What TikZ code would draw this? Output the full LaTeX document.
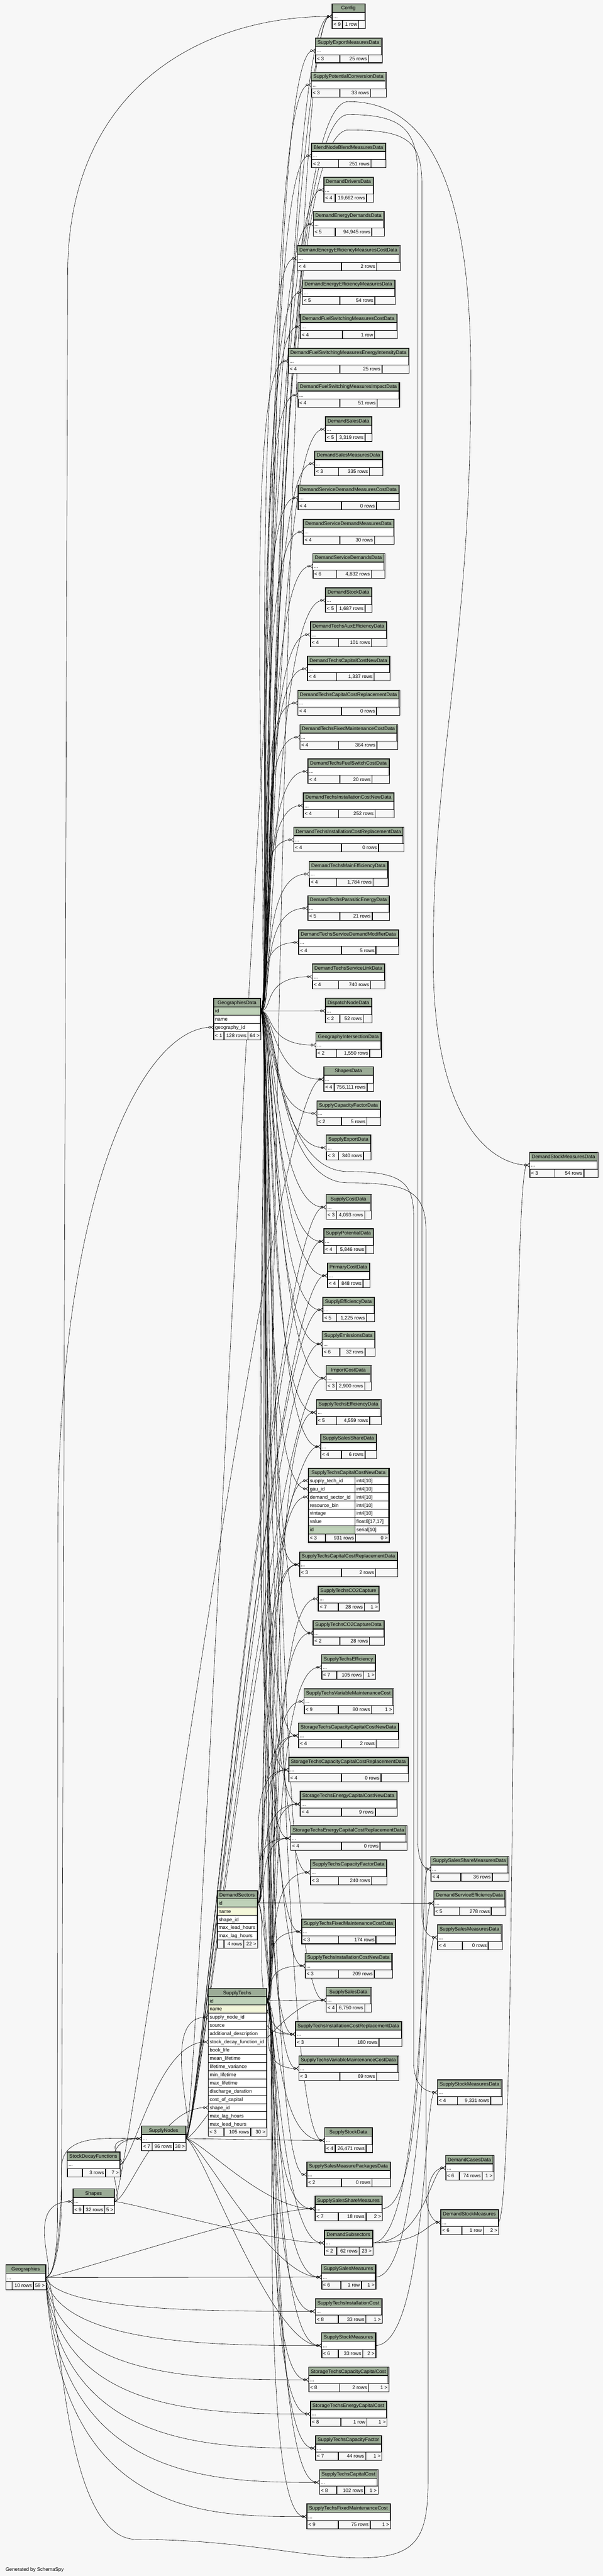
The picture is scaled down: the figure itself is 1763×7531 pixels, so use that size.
\documentclass[tikz,border=0pt]{standalone}
\usepackage{fontspec}
\setmainfont{Liberation Sans}
\usetikzlibrary{arrows.meta}
\usetikzlibrary{positioning}

\definecolor{canvas}{HTML}{F7F7F7}
\definecolor{headfill}{HTML}{9BAB96}
\definecolor{keyfill}{HTML}{BED1B8}
\definecolor{namefill}{HTML}{F4F7DA}

\newcommand{\tblfont}{\fontsize{14.5pt}{17pt}\selectfont}
\newlength{\tblw}
\newlength{\tbll}
\newlength{\tblm}
\newlength{\tblr}

\pgfdeclarelayer{background}
\pgfsetlayers{background,main}

\tikzset{
    every node/.style={font=\tblfont, inner sep=0pt},
    cell/.style={draw=black, line width=0.8pt},
    tblhead/.style={cell, fill=headfill, minimum height=24pt, text height=10.4pt, text depth=0pt},
    tblrow/.style={cell, fill=white, minimum height=24pt},
    tblfoot/.style={cell, fill=canvas, minimum height=24pt},
    colrow/.style={cell, minimum height=24pt, inner xsep=4pt, align=left, text height=10.4pt, text depth=0pt},
    txt/.style={text height=10.4pt, text depth=0pt},
    frame/.style={draw=black, line width=1.6pt},
    link/.style={draw=black, line width=0.9pt,
        -{Circle[open,length=7pt,width=7pt] Straight Barb[reversed,length=7pt,width=11pt]}},
    fk/.style={ % foreign key, crow's foot at the child
        link, to path={.. controls +(40,0) and +(-150,0) .. (\tikztotarget)}
    },
    fkr/.style={link, to path={.. controls +(150,0) and +(-40,0) .. (\tikztotarget)}},
    fkm/.style={link, to path={.. controls +(60,0) and +(-60,0) .. (\tikztotarget)}},
    fkdown/.style={link, to path={.. controls ([xshift=40pt]\tikztostart |- \tikztotarget) and +(-300,0) .. (\tikztotarget)}}
}

% footer: name, x, y, widths (3), texts (3)
\newcommand{\tblfooter}[9]{%
    \node[tblfoot, minimum width=#4pt, anchor=north west] (#1-p) at (#2,#3) {};
    \node[tblfoot, minimum width=#5pt, anchor=north west] (#1-n) at (#1-p.north east) {};
    \node[tblfoot, minimum width=#6pt, anchor=north west] (#1-c) at (#1-n.north east) {};
    \node[txt, anchor=west] (#1-pt) at ([xshift=4pt]#1-p.west) {#7};
    \node[txt, anchor=east] (#1-nt) at ([xshift=-4pt]#1-n.east) {#8};
    \node[txt, anchor=east] (#1-ct) at ([xshift=-4pt]#1-c.east) {#9};
}

% collapsed table: name, centre x, top y, parents, rows, children
\newcommand{\datatable}[6]{%
    \pgfinterruptpicture%
        \settowidth{\tblw}{\tblfont #1}\global\tblw=\tblw%
        \settowidth{\tbll}{\tblfont #4}\global\tbll=\tbll%
        \settowidth{\tblm}{\tblfont #5}\global\tblm=\tblm%
        \settowidth{\tblr}{\tblfont #6}\global\tblr=\tblr%
    \endpgfinterruptpicture%
    \pgfmathsetmacro{\tblL}{max(17,\tbll+8.4)}%
    \pgfmathsetmacro{\tblM}{\tblm+11}%
    \pgfmathsetmacro{\tblR}{max(19,\tblr+8.4)}%
    \pgfmathsetmacro{\tblW}{max(\tblw+12,\tblL+\tblM+\tblR)}%
    \pgfmathsetmacro{\tblE}{\tblW-\tblL-\tblM-\tblR}%
    \pgfmathsetmacro{\tblL}{\tblL+\tblE/2}%
    \pgfmathsetmacro{\tblM}{\tblM+\tblE/4}%
    \pgfmathsetmacro{\tblR}{\tblR+\tblE/4}%
    \pgfmathsetmacro{\tblX}{#2-\tblW/2}%
    \pgfmathsetmacro{\tblY}{#3+48}%
    \node[tblhead, minimum width=\tblW pt, anchor=north] (#1) at (#2,#3) {#1};
    \node[tblrow, minimum width=\tblW pt, anchor=north] (#1-r) at (#1.south) {};
    \node[txt, anchor=west] (#1-e) at ([xshift=4pt]#1-r.west) {...};
    \tblfooter{#1}{\tblX}{\tblY}{\tblL}{\tblM}{\tblR}{#4}{#5}{#6}
    \draw[frame] (#1.north west) rectangle (#1-c.south east);
}

\begin{document}
\begin{tikzpicture}[x=1pt,y=-1pt]
\begin{pgfonlayer}{background}
\fill[canvas] (0,0) rectangle (1763,7531);
\end{pgfonlayer}
\useasboundingbox (0,0) rectangle (1763,7531);

\datatable{Config}{1019}{11}{< 9}{1 row}{}
\datatable{SupplyExportMeasuresData}{1019}{111}{< 3}{25 rows}{}
\datatable{SupplyPotentialConversionData}{1019}{211}{< 3}{33 rows}{}
\datatable{BlendNodeBlendMeasuresData}{1019}{418}{< 2}{251 rows}{}
\datatable{DemandDriversData}{1019}{518}{< 4}{19,662 rows}{}
\datatable{DemandEnergyDemandsData}{1019}{618}{< 5}{94,945 rows}{}
\datatable{DemandEnergyEfficiencyMeasuresCostData}{1019}{718}{< 4}{2 rows}{}
\datatable{DemandEnergyEfficiencyMeasuresData}{1019}{818}{< 5}{54 rows}{}
\datatable{DemandFuelSwitchingMeasuresCostData}{1019}{918}{< 4}{1 row}{}
\datatable{DemandFuelSwitchingMeasuresEnergyIntensityData}{1019}{1018}{< 4}{25 rows}{}
\datatable{DemandFuelSwitchingMeasuresImpactData}{1019}{1118}{< 4}{51 rows}{}
\datatable{DemandSalesData}{1019}{1218}{< 5}{3,319 rows}{}
\datatable{DemandSalesMeasuresData}{1019}{1318}{< 3}{335 rows}{}
\datatable{DemandServiceDemandMeasuresCostData}{1019}{1418}{< 4}{0 rows}{}
\datatable{DemandServiceDemandMeasuresData}{1019}{1518}{< 4}{30 rows}{}
\datatable{DemandServiceDemandsData}{1019}{1618}{< 6}{4,832 rows}{}
\datatable{DemandStockData}{1019}{1718}{< 5}{1,687 rows}{}
\datatable{DemandTechsAuxEfficiencyData}{1019}{1818}{< 4}{101 rows}{}
\datatable{DemandTechsCapitalCostNewData}{1019}{1918}{< 4}{1,337 rows}{}
\datatable{DemandTechsCapitalCostReplacementData}{1019}{2018}{< 4}{0 rows}{}
\datatable{DemandTechsFixedMaintenanceCostData}{1019}{2118}{< 4}{364 rows}{}
\datatable{DemandTechsFuelSwitchCostData}{1019}{2218}{< 4}{20 rows}{}
\datatable{DemandTechsInstallationCostNewData}{1019}{2318}{< 4}{252 rows}{}
\datatable{DemandTechsInstallationCostReplacementData}{1019}{2418}{< 4}{0 rows}{}
\datatable{DemandTechsMainEfficiencyData}{1019}{2518}{< 4}{1,784 rows}{}
\datatable{DemandTechsParasiticEnergyData}{1019}{2618}{< 5}{21 rows}{}
\datatable{DemandTechsServiceDemandModifierData}{1019}{2718}{< 4}{5 rows}{}
\datatable{DemandTechsServiceLinkData}{1019}{2818}{< 4}{740 rows}{}
\datatable{DispatchNodeData}{1019}{2918}{< 2}{52 rows}{}
\datatable{GeographyIntersectionData}{1019}{3018}{< 2}{1,550 rows}{}
\datatable{ShapesData}{1019}{3118}{< 4}{756,111 rows}{}
\datatable{SupplyCapacityFactorData}{1019}{3218}{< 2}{5 rows}{}
\datatable{SupplyExportData}{1019}{3318}{< 3}{340 rows}{}
\datatable{SupplyCostData}{1019}{3492}{< 3}{4,093 rows}{}
\datatable{SupplyPotentialData}{1019}{3592}{< 4}{5,846 rows}{}
\datatable{PrimaryCostData}{1019}{3692}{< 4}{848 rows}{}
\datatable{SupplyEfficiencyData}{1019}{3792}{< 5}{1,225 rows}{}
\datatable{SupplyEmissionsData}{1019}{3892}{< 6}{32 rows}{}
\datatable{ImportCostData}{1019}{3992}{< 3}{2,900 rows}{}
\datatable{SupplyTechsEfficiencyData}{1019}{4092}{< 5}{4,559 rows}{}
\datatable{SupplySalesShareData}{1019}{4192}{< 4}{6 rows}{}
\datatable{SupplyTechsCapitalCostReplacementData}{1019}{4537}{< 3}{2 rows}{}
\datatable{SupplyTechsCO2Capture}{1019}{4637}{< 7}{28 rows}{1 >}
\datatable{SupplyTechsCO2CaptureData}{1019}{4737}{< 2}{28 rows}{}
\datatable{SupplyTechsEfficiency}{1019}{4837}{< 7}{105 rows}{1 >}
\datatable{SupplyTechsVariableMaintenanceCost}{1019}{4937}{< 9}{80 rows}{1 >}
\datatable{StorageTechsCapacityCapitalCostNewData}{1019}{5037}{< 4}{2 rows}{}
\datatable{StorageTechsCapacityCapitalCostReplacementData}{1019}{5137}{< 4}{0 rows}{}
\datatable{StorageTechsEnergyCapitalCostNewData}{1019}{5237}{< 4}{9 rows}{}
\datatable{StorageTechsEnergyCapitalCostReplacementData}{1019}{5337}{< 4}{0 rows}{}
\datatable{SupplyTechsCapacityFactorData}{1019}{5437}{< 3}{240 rows}{}
\datatable{SupplyTechsFixedMaintenanceCostData}{1019}{5610}{< 3}{174 rows}{}
\datatable{SupplyTechsInstallationCostNewData}{1019}{5710}{< 3}{209 rows}{}
\datatable{SupplySalesData}{1019}{5810}{< 4}{6,750 rows}{}
\datatable{SupplyTechsInstallationCostReplacementData}{1019}{5910}{< 3}{180 rows}{}
\datatable{SupplyTechsVariableMaintenanceCostData}{1019}{6010}{< 3}{69 rows}{}
\datatable{SupplyStockData}{1019}{6220}{< 4}{26,471 rows}{}
\datatable{SupplySalesMeasurePackagesData}{1019}{6320}{< 2}{0 rows}{}
\datatable{SupplySalesShareMeasures}{1019}{6420}{< 7}{18 rows}{2 >}
\datatable{DemandSubsectors}{1019}{6520}{< 2}{62 rows}{23 >}
\datatable{SupplySalesMeasures}{1019}{6620}{< 6}{1 row}{1 >}
\datatable{SupplyTechsInstallationCost}{1019}{6720}{< 8}{33 rows}{1 >}
\datatable{SupplyStockMeasures}{1019}{6820}{< 6}{33 rows}{2 >}
\datatable{StorageTechsCapacityCapitalCost}{1019}{6920}{< 8}{2 rows}{1 >}
\datatable{StorageTechsEnergyCapitalCost}{1019}{7020}{< 8}{1 row}{1 >}
\datatable{SupplyTechsCapacityFactor}{1019}{7120}{< 7}{44 rows}{1 >}
\datatable{SupplyTechsCapitalCost}{1019}{7220}{< 8}{102 rows}{1 >}
\datatable{SupplyTechsFixedMaintenanceCost}{1019}{7320}{< 9}{75 rows}{1 >}

\datatable{SupplySalesShareMeasuresData}{1373}{5427}{< 4}{36 rows}{}
\datatable{DemandServiceEfficiencyData}{1373}{5527}{< 5}{278 rows}{}
\datatable{SupplySalesMeasuresData}{1373}{5627}{< 4}{0 rows}{}
\datatable{SupplyStockMeasuresData}{1373}{6080}{< 4}{9,331 rows}{}
\datatable{DemandCasesData}{1373}{6301}{< 6}{74 rows}{1 >}
\datatable{DemandStockMeasures}{1373}{6460}{< 6}{1 row}{2 >}
\datatable{DemandStockMeasuresData}{1648}{3369}{< 3}{54 rows}{}

\datatable{SupplyNodes}{478.5}{6215}{< 7}{96 rows}{38 >}
\datatable{StockDecayFunctions}{273}{6291}{}{3 rows}{7 >}
\datatable{Shapes}{273.5}{6399}{< 9}{32 rows}{5 >}
\datatable{Geographies}{75}{6621}{}{10 rows}{59 >}

%%%%%%%%%%%%%%%%%%%%%%%%%%%%%%%%%%
\node[tblhead, minimum width=136pt, anchor=north west] (GeographiesData) at (625,2919) {GeographiesData};
\foreach \cname/\ctext/\cfill [count=\i] in {id/id/keyfill, name/name/white, gid/geography\_id/white}
    \node[colrow, fill=\cfill, text width=128pt, anchor=north west] (GeographiesData-\cname) at (625,{2919+24*\i}) {\ctext};
\tblfooter{GeographiesData}{625}{3015}{29}{69.5}{37.5}{< 1}{128 rows}{64 >}
\draw[frame] (GeographiesData.north west) rectangle (GeographiesData-c.south east);

\node[tblhead, minimum width=116pt, anchor=north west] (DemandSectors) at (635,5527) {DemandSectors};
\foreach \cname/\ctext/\cfill [count=\i] in {id/id/keyfill, name/name/namefill, shid/shape\_id/white,
        lead/max\_lead\_hours/white, lag/max\_lag\_hours/white}
    \node[colrow, fill=\cfill, text width=108pt, anchor=north west] (DemandSectors-\cname) at (635,{5527+24*\i}) {\ctext};
\tblfooter{DemandSectors}{635}{5671}{19}{57}{40}{}{4 rows}{22 >}
\draw[frame] (DemandSectors.north west) rectangle (DemandSectors-c.south east);

\node[tblhead, minimum width=169pt, anchor=north west] (SupplyTechs) at (609,5813) {SupplyTechs};
\foreach \cname/\ctext/\cfill [count=\i] in {id/id/keyfill, name/name/namefill, snid/supply\_node\_id/white,
        src/source/white, desc/additional\_description/white, sdfid/stock\_decay\_function\_id/white,
        blife/book\_life/white, mlife/mean\_lifetime/white, lvar/lifetime\_variance/white,
        minl/min\_lifetime/white, maxl/max\_lifetime/white, dur/discharge\_duration/white,
        coc/cost\_of\_capital/white, shid/shape\_id/white, lag/max\_lag\_hours/white, lead/max\_lead\_hours/white}
    \node[colrow, fill=\cfill, text width=161pt, anchor=north west] (SupplyTechs-\cname) at (609,{5813+24*\i}) {\ctext};
\tblfooter{SupplyTechs}{609}{6221}{45}{77.5}{46.5}{< 3}{105 rows}{30 >}
\draw[frame] (SupplyTechs.north west) rectangle (SupplyTechs-c.south east);

\node[tblhead, minimum width=234pt, anchor=north west] (SupplyTechsCapitalCostNewData) at (902,4292) {SupplyTechsCapitalCostNewData};
\foreach \cname/\ctext/\ctype/\cfill [count=\i] in {stid/supply\_tech\_id/int4[10]/white, gauid/gau\_id/int4[10]/white,
        dsid/demand\_sector\_id/int4[10]/white, rbin/resource\_bin/int4[10]/white, vint/vintage/int4[10]/white,
        val/value/{float8[17,17]}/white, id/id/serial[10]/keyfill}
{
    \node[colrow, fill=\cfill, text width=128pt, anchor=north west] (SupplyTechsCapitalCostNewData-\cname) at (902,{4292+24*\i}) {\ctext};
    \node[colrow, fill=white, text width=90pt, anchor=north west] (SupplyTechsCapitalCostNewData-\cname-type) at (1038,{4292+24*\i}) {\ctype};
}
\tblfooter{SupplyTechsCapitalCostNewData}{902}{4484}{49}{87}{98}{< 3}{931 rows}{0 >}
\draw[draw=black, line width=3.2pt] (SupplyTechsCapitalCostNewData.north west) rectangle (SupplyTechsCapitalCostNewData-c.south east);

\node[anchor=base west] (credit) at (16,7516) {Generated by SchemaSpy};

%%%%%%%%%%%%%%%%%%%%%%%%%%%%%%%%%%
\coordinate (loopA) at (1019,297);
\coordinate (loopA2) at (1377,1100);
\coordinate (loopA3) at (1267,2800);
\coordinate (loopB) at (1019,335);
\coordinate (loopB2) at (1222,520);
\coordinate (loopB3) at (1222,5380);
\coordinate (loopC) at (1019,380);
\coordinate (loopC2) at (1234,540);
\coordinate (loopC3) at (1234,5590);
\coordinate (loopD) at (1019,3425);
\coordinate (loopD2) at (1210,3560);
\coordinate (loopD3) at (1210,6030);
\coordinate (loopE) at (1019,3458);
\coordinate (loopE2) at (1246,3600);
\coordinate (loopE3) at (1246,6410);
\coordinate (loopF0) at (400,7424);
\coordinate (loopF) at (1050,7478);
\coordinate (loopF2) at (1252,7250);
\coordinate (loopF3) at (1252,6420);
\coordinate (loopG) at (180,6420);
\coordinate (loopG2) at (198,800);
\coordinate (loopH) at (168,6480);
\coordinate (loopH2) at (169,4500);
\coordinate (loopJ) at (180,6340);

\begin{pgfonlayer}{background}
\draw
    (GeographiesData-id.east) edge[fk] (Config-r.west)
    (GeographiesData-id.east) edge[fk] (SupplyExportMeasuresData-r.west)
    (GeographiesData-id.east) edge[fk] (SupplyPotentialConversionData-r.west)
    (GeographiesData-id.east) edge[fk] (BlendNodeBlendMeasuresData-r.west)
    (GeographiesData-id.east) edge[fk] (DemandDriversData-r.west)
    (GeographiesData-id.east) edge[fk] (DemandEnergyDemandsData-r.west)
    (GeographiesData-id.east) edge[fk] (DemandEnergyEfficiencyMeasuresCostData-r.west)
    (GeographiesData-id.east) edge[fk] (DemandEnergyEfficiencyMeasuresData-r.west)
    (GeographiesData-id.east) edge[fk] (DemandFuelSwitchingMeasuresCostData-r.west)
    (GeographiesData-id.east) edge[fk] (DemandFuelSwitchingMeasuresEnergyIntensityData-r.west)
    (GeographiesData-id.east) edge[fk] (DemandFuelSwitchingMeasuresImpactData-r.west)
    (GeographiesData-id.east) edge[fk] (DemandSalesData-r.west)
    (GeographiesData-id.east) edge[fk] (DemandSalesMeasuresData-r.west)
    (GeographiesData-id.east) edge[fk] (DemandServiceDemandMeasuresCostData-r.west)
    (GeographiesData-id.east) edge[fk] (DemandServiceDemandMeasuresData-r.west)
    (GeographiesData-id.east) edge[fk] (DemandServiceDemandsData-r.west)
    (GeographiesData-id.east) edge[fk] (DemandStockData-r.west)
    (GeographiesData-id.east) edge[fk] (DemandTechsAuxEfficiencyData-r.west)
    (GeographiesData-id.east) edge[fk] (DemandTechsCapitalCostNewData-r.west)
    (GeographiesData-id.east) edge[fk] (DemandTechsCapitalCostReplacementData-r.west)
    (GeographiesData-id.east) edge[fk] (DemandTechsFixedMaintenanceCostData-r.west)
    (GeographiesData-id.east) edge[fk] (DemandTechsFuelSwitchCostData-r.west)
    (GeographiesData-id.east) edge[fk] (DemandTechsInstallationCostNewData-r.west)
    (GeographiesData-id.east) edge[fk] (DemandTechsInstallationCostReplacementData-r.west)
    (GeographiesData-id.east) edge[fk] (DemandTechsMainEfficiencyData-r.west)
    (GeographiesData-id.east) edge[fk] (DemandTechsParasiticEnergyData-r.west)
    (GeographiesData-id.east) edge[fk] (DemandTechsServiceDemandModifierData-r.west)
    (GeographiesData-id.east) edge[fk] (DemandTechsServiceLinkData-r.west)
    (GeographiesData-id.east) edge[fk] (DispatchNodeData-r.west)
    (GeographiesData-id.east) edge[fk] (GeographyIntersectionData-r.west)
    (GeographiesData-id.east) edge[fk] (ShapesData-r.west)
    (GeographiesData-id.east) edge[fk] (SupplyCapacityFactorData-r.west)
    (GeographiesData-id.east) edge[fk] (SupplyExportData-r.west)
    (GeographiesData-id.east) edge[fk] (SupplyCostData-r.west)
    (GeographiesData-id.east) edge[fk] (SupplyPotentialData-r.west)
    (GeographiesData-id.east) edge[fk] (PrimaryCostData-r.west)
    (GeographiesData-id.east) edge[fk] (SupplyEfficiencyData-r.west)
    (GeographiesData-id.east) edge[fk] (SupplyEmissionsData-r.west)
    (GeographiesData-id.east) edge[fk] (ImportCostData-r.west)
    (GeographiesData-id.east) edge[fk] (SupplyTechsEfficiencyData-r.west)
    (GeographiesData-id.east) edge[fk] (SupplySalesShareData-r.west)
    (GeographiesData-id.east) edge[fk] (SupplyTechsCapitalCostNewData-gauid.west)
    (GeographiesData-id.east) edge[fk] (SupplyTechsCapitalCostReplacementData-r.west)
    (GeographiesData-id.east) edge[fk] (SupplyTechsCO2CaptureData-r.west)
    (GeographiesData-id.east) edge[fk] (StorageTechsCapacityCapitalCostNewData-r.west)
    (GeographiesData-id.east) edge[fk] (StorageTechsCapacityCapitalCostReplacementData-r.west)
    (GeographiesData-id.east) edge[fk] (StorageTechsEnergyCapitalCostNewData-r.west)
    (GeographiesData-id.east) edge[fk] (StorageTechsEnergyCapitalCostReplacementData-r.west)
    (GeographiesData-id.east) edge[fk] (SupplyTechsCapacityFactorData-r.west)
    (GeographiesData-id.east) edge[fk] (SupplyTechsFixedMaintenanceCostData-r.west)
    (GeographiesData-id.east) edge[fk] (SupplyTechsInstallationCostNewData-r.west)
    (GeographiesData-id.east) edge[fk] (SupplySalesData-r.west)
    (GeographiesData-id.east) edge[fk] (SupplyTechsInstallationCostReplacementData-r.west)
    (GeographiesData-id.east) edge[fk] (SupplyTechsVariableMaintenanceCostData-r.west)
    (GeographiesData-id.east) edge[fk] (SupplyStockData-r.west)
    (GeographiesData-id.east) edge[fk] (SupplySalesMeasurePackagesData-r.west)
%%%%%%%%%%%%%%%%%%%%%%%%%%%%%%%%%%
    (SupplyTechs-id.east) edge[fk] (SupplyTechsCapitalCostNewData-stid.west)
    (SupplyTechs-id.east) edge[fk] (SupplyTechsCapitalCostReplacementData-r.west)
    (SupplyTechs-id.east) edge[fk] (SupplyTechsCO2Capture-r.west)
    (SupplyTechs-id.east) edge[fk] (SupplyTechsCO2CaptureData-r.west)
    (SupplyTechs-id.east) edge[fk] (SupplyTechsEfficiency-r.west)
    (SupplyTechs-id.east) edge[fk] (SupplyTechsEfficiencyData-r.west)
    (SupplyTechs-id.east) edge[fk] (SupplyTechsVariableMaintenanceCost-r.west)
    (SupplyTechs-id.east) edge[fk] (StorageTechsCapacityCapitalCostNewData-r.west)
    (SupplyTechs-id.east) edge[fk] (StorageTechsCapacityCapitalCostReplacementData-r.west)
    (SupplyTechs-id.east) edge[fk] (StorageTechsEnergyCapitalCostNewData-r.west)
    (SupplyTechs-id.east) edge[fk] (StorageTechsEnergyCapitalCostReplacementData-r.west)
    (SupplyTechs-id.east) edge[fk] (SupplyTechsCapacityFactorData-r.west)
    (SupplyTechs-id.east) edge[fk] (SupplyTechsFixedMaintenanceCostData-r.west)
    (SupplyTechs-id.east) edge[fk] (SupplyTechsInstallationCostNewData-r.west)
    (SupplyTechs-id.east) edge[fk] (SupplySalesData-r.west)
    (SupplyTechs-id.east) edge[fk] (SupplyTechsInstallationCostReplacementData-r.west)
    (SupplyTechs-id.east) edge[fk] (SupplyTechsVariableMaintenanceCostData-r.west)
    (SupplyTechs-id.east) edge[fk] (SupplyStockData-r.west)
    (SupplyTechs-id.east) edge[fk] (SupplySalesShareMeasures-r.west)
    (SupplyTechs-id.east) edge[fk] (SupplySalesMeasures-r.west)
    (SupplyTechs-id.east) edge[fk] (SupplyTechsInstallationCost-r.west)
    (SupplyTechs-id.east) edge[fk] (SupplyStockMeasures-r.west)
    (SupplyTechs-id.east) edge[fk] (StorageTechsCapacityCapitalCost-r.west)
    (SupplyTechs-id.east) edge[fk] (StorageTechsEnergyCapitalCost-r.west)
    (SupplyTechs-id.east) edge[fk] (SupplyTechsCapacityFactor-r.west)
    (SupplyTechs-id.east) edge[fk] (SupplyTechsCapitalCost-r.west)
    (SupplyTechs-id.east) edge[fk] (SupplyTechsFixedMaintenanceCost-r.west)
%%%%%%%%%%%%%%%%%%%%%%%%%%%%%%%%%%
    (DemandSectors-id.east) edge[fk] (Config-r.west)
    (DemandSectors-id.east) edge[fk] (SupplyTechsCapitalCostNewData-dsid.west)
    (DemandSectors-id.east) edge[fk] (SupplyTechsCapitalCostReplacementData-r.west)
    (DemandSectors-id.east) edge[fk] (StorageTechsCapacityCapitalCostNewData-r.west)
    (DemandSectors-id.east) edge[fk] (StorageTechsCapacityCapitalCostReplacementData-r.west)
    (DemandSectors-id.east) edge[fk] (StorageTechsEnergyCapitalCostNewData-r.west)
    (DemandSectors-id.east) edge[fk] (StorageTechsEnergyCapitalCostReplacementData-r.west)
    (DemandSectors-id.east) edge[fk] (SupplyTechsInstallationCostReplacementData-r.west)
    (DemandSectors-id.east) edge[fk] (DemandSubsectors-r.west)
    (DemandSectors-id.east) edge[fk] (DemandServiceEfficiencyData-r.west)
%%%%%%%%%%%%%%%%%%%%%%%%%%%%%%%%%%
    (SupplyNodes-r.east) edge[fk] (SupplyTechs-snid.west)
    (SupplyNodes-r.east) edge[fk] (Config-r.west)
    (SupplyNodes-r.east) edge[fk] (SupplyCostData-r.west)
    (SupplyNodes-r.east) edge[fk] (SupplyPotentialData-r.west)
    (SupplyNodes-r.east) edge[fk] (PrimaryCostData-r.west)
    (SupplyNodes-r.east) edge[fk] (SupplyEfficiencyData-r.west)
    (SupplyNodes-r.east) edge[fk] (SupplyEmissionsData-r.west)
    (SupplyNodes-r.east) edge[fk] (ImportCostData-r.west)
    (SupplyNodes-r.east) edge[fk] (SupplySalesShareData-r.west)
    (SupplyNodes-r.east) edge[fk] (SupplySalesData-r.west)
    (SupplyNodes-r.east) edge[fk] (SupplyStockData-r.west)
    (SupplyNodes-r.east) edge[fk] (SupplySalesShareMeasures-r.west)
    (SupplyNodes-r.east) edge[fk] (SupplySalesMeasures-r.west)
    (SupplyNodes-r.east) edge[fk] (SupplyStockMeasures-r.west)
    (StockDecayFunctions-r.east) edge[fk] (SupplyTechs-sdfid.west)
    (StockDecayFunctions-r.east) edge[fk] (SupplyNodes-r.west)
    (Shapes-r.east) edge[fk] (SupplyNodes-r.west)
    (Shapes-r.east) edge[fk] (SupplyTechs-shid.west)
    (Shapes-r.east) edge[fk] (DemandSubsectors-r.west)
    (Shapes-r.east) edge[fk] (ShapesData-r.west)
%%%%%%%%%%%%%%%%%%%%%%%%%%%%%%%%%%
    (Geographies-r.east) edge[fk] (Shapes-r.west)
    (Geographies-r.east) edge[fk] (SupplySalesShareMeasures-r.west)
    (Geographies-r.east) edge[fk] (SupplySalesMeasures-r.west)
    (Geographies-r.east) edge[fkdown] (SupplyTechsInstallationCost-r.west)
    (Geographies-r.east) edge[fkdown] (SupplyStockMeasures-r.west)
    (Geographies-r.east) edge[fkdown] (StorageTechsCapacityCapitalCost-r.west)
    (Geographies-r.east) edge[fkdown] (StorageTechsEnergyCapitalCost-r.west)
    (Geographies-r.east) edge[fkdown] (SupplyTechsCapacityFactor-r.west)
    (Geographies-r.east) edge[fkdown] (SupplyTechsCapitalCost-r.west)
    (Geographies-r.east) edge[fkdown] (SupplyTechsFixedMaintenanceCost-r.west)
%%%%%%%%%%%%%%%%%%%%%%%%%%%%%%%%%%
    (SupplySalesShareMeasures-r.east) edge[fkr] (SupplySalesShareMeasuresData-r.west)
    (SupplySalesMeasures-r.east) edge[fkr] (SupplySalesMeasuresData-r.west)
    (SupplyStockMeasures-r.east) edge[fkr] (SupplyStockMeasuresData-r.west)
    (DemandSubsectors-r.east) edge[fkr] (DemandServiceEfficiencyData-r.west)
    (DemandSubsectors-r.east) edge[fkr] (DemandCasesData-r.west)
    (DemandSubsectors-r.east) edge[fkr] (DemandStockMeasures-r.west)
    (DemandStockMeasures-r.east) edge[fkm] (DemandStockMeasuresData-r.west)
    ;

\draw[link] (GeographiesData-id.east) .. controls (815,2954) and (790,297) .. (loopA)
    .. controls (1300,297) and (1377,650) .. (loopA2) .. controls (1377,1900) and (1267,2200) .. (loopA3)
    .. controls (1267,3300) and (1450,3405) .. (DemandStockMeasuresData-r.west);
\draw[link] (GeographiesData-id.east) .. controls (812,2954) and (790,335) .. (loopB)
    .. controls (1180,335) and (1222,380) .. (loopB2) -- (loopB3)
    .. controls (1222,5440) and (1240,5463) .. (SupplySalesShareMeasuresData-r.west);
\draw[link] (GeographiesData-id.east) .. controls (810,2954) and (790,380) .. (loopC)
    .. controls (1190,380) and (1234,410) .. (loopC2) -- (loopC3)
    .. controls (1234,5640) and (1250,5663) .. (SupplySalesMeasuresData-r.west);
\draw[link] (GeographiesData-id.east) .. controls (815,2954) and (800,3425) .. (loopD)
    .. controls (1180,3425) and (1210,3460) .. (loopD2) -- (loopD3)
    .. controls (1210,6090) and (1240,6116) .. (SupplyStockMeasuresData-r.west);
\draw[link] (GeographiesData-id.east) .. controls (815,2954) and (800,3458) .. (loopE)
    .. controls (1190,3458) and (1246,3480) .. (loopE2) -- (loopE3)
    .. controls (1246,6470) and (1270,6496) .. (DemandStockMeasures-r.west);
\draw[link] (Geographies-r.east) .. controls (180,6657) and (165,7424) .. (loopF0)
    .. controls (700,7424) and (900,7478) .. (loopF)
    .. controls (1220,7478) and (1252,7420) .. (loopF2) -- (loopF3)
    .. controls (1252,6360) and (1280,6337) .. (DemandCasesData-r.west);
\draw[link] (Geographies-r.east) .. controls (165,6656) and (180,6520) .. (loopG) -- (loopG2)
    .. controls (198,250) and (600,47) .. (Config-r.west);
\draw[link] (Geographies-r.east) .. controls (160,6656) and (168,6560) .. (loopH) -- (loopH2)
    .. controls (169,3450) and (430,3003) .. (GeographiesData-gid.west);
\draw[link] (Geographies-r.east) .. controls (170,6656) and (180,6450) .. (loopJ)
    .. controls (180,6240) and (300,6251) .. (SupplyNodes-r.west);
\end{pgfonlayer}
\end{tikzpicture}
\end{document}
